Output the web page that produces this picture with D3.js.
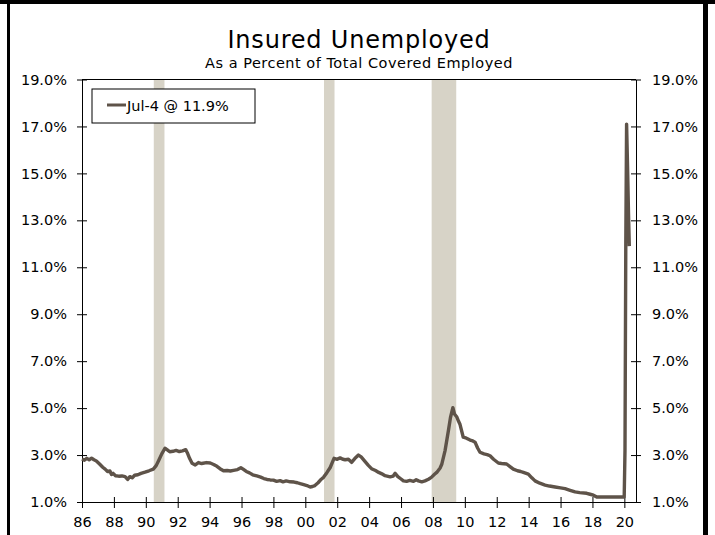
<!DOCTYPE html>
<html><head><meta charset="utf-8">
<script src="https://cdn.jsdelivr.net/npm/d3@7/dist/d3.min.js"></script>
<style>
html,body{margin:0;padding:0;background:#fff;}
svg{display:block;}
text{font-family:"DejaVu Sans",Verdana,sans-serif;fill:#000;}
</style></head>
<body>
<svg id="chart" width="715" height="535"></svg>
<script>
const title = "Insured Unemployed";
const subtitle = "As a Percent of Total Covered Employed";
const legendLabel = "Jul-4 @ 11.9%";

const years = [
1986.0,1986.15,1986.3,1986.45,1986.6,1986.75,1986.9,1987.1,1987.3,1987.45,1987.6,1987.75,1987.85,1987.95,
1988.1,1988.3,1988.5,1988.7,1988.86,1989.0,1989.15,1989.3,1989.5,1989.7,1989.95,1990.2,1990.47,1990.65,1990.8,
1991.0,1991.2,1991.35,1991.5,1991.7,1991.9,1992.1,1992.3,1992.5,1992.6,1992.75,1992.9,1993.1,1993.3,1993.5,1993.8,
1994.04,1994.25,1994.46,1994.65,1994.87,1995.1,1995.3,1995.5,1995.75,1995.96,1996.1,1996.3,1996.5,1996.7,1996.96,
1997.2,1997.4,1997.6,1997.8,1998.0,1998.2,1998.42,1998.6,1998.8,1999.05,1999.3,1999.5,1999.68,1999.9,
2000.1,2000.3,2000.45,2000.6,2000.8,2001.0,2001.14,2001.35,2001.56,2001.7,2001.8,2002.0,2002.18,2002.35,2002.5,
2002.7,2002.9,2003.1,2003.33,2003.5,2003.75,2003.95,2004.15,2004.4,2004.6,2004.8,2005.0,2005.32,2005.5,2005.63,
2005.8,2006.0,2006.15,2006.35,2006.55,2006.78,2006.95,2007.09,2007.3,2007.5,2007.72,2007.9,2008.1,2008.24,
2008.45,2008.56,2008.76,2008.97,2009.1,2009.25,2009.35,2009.5,2009.6,2009.7,2009.9,2010.1,2010.33,2010.5,
2010.64,2010.8,2010.95,2011.2,2011.4,2011.58,2011.8,2012.1,2012.3,2012.62,2012.85,2013.04,2013.3,2013.5,
2013.67,2013.98,2014.2,2014.4,2014.7,2015.03,2015.3,2015.66,2016.0,2016.28,2016.6,2016.91,2017.2,2017.64,
2017.85,2018.06,2018.27,2019.0,2019.99,2020.04,2020.09,2020.14,2020.2,2020.26,2020.31];

const rates = [
2.83,2.78,2.86,2.80,2.87,2.80,2.75,2.62,2.48,2.40,2.30,2.32,2.17,2.22,
2.12,2.10,2.11,2.08,1.96,2.08,2.03,2.14,2.16,2.22,2.27,2.33,2.40,2.55,2.76,
3.05,3.29,3.22,3.14,3.16,3.20,3.15,3.18,3.23,3.10,2.85,2.65,2.58,2.68,2.64,2.68,
2.66,2.60,2.52,2.42,2.33,2.34,2.32,2.35,2.38,2.46,2.40,2.30,2.24,2.16,2.11,
2.06,2.00,1.96,1.94,1.93,1.88,1.91,1.86,1.90,1.86,1.85,1.82,1.78,1.74,
1.70,1.64,1.66,1.70,1.82,1.97,2.05,2.25,2.47,2.70,2.86,2.82,2.88,2.82,2.80,
2.82,2.69,2.85,3.00,2.92,2.72,2.56,2.42,2.34,2.26,2.20,2.12,2.07,2.10,2.22,
2.08,1.98,1.90,1.88,1.92,1.88,1.95,1.90,1.86,1.90,1.97,2.05,2.18,2.26,
2.45,2.62,3.19,4.04,4.60,5.02,4.75,4.62,4.45,4.30,3.76,3.72,3.64,3.60,
3.55,3.30,3.12,3.05,3.02,2.97,2.82,2.66,2.64,2.62,2.50,2.40,2.33,2.30,
2.26,2.19,2.03,1.90,1.80,1.72,1.68,1.64,1.60,1.57,1.50,1.43,1.40,1.37,
1.33,1.29,1.21,1.21,1.21,3.2,12.0,17.1,15.3,13.3,11.9];

const recessionStart = [1990.5, 2001.17, 2007.92];
const recessionEnd   = [1991.17, 2001.83, 2009.46];

const xTickYears  = [1986,1988,1990,1992,1994,1996,1998,2000,2002,2004,2006,2008,2010,2012,2014,2016,2018,2020];
const xTickLabels = ["86","88","90","92","94","96","98","00","02","04","06","08","10","12","14","16","18","20"];
const yTicks = [1,3,5,7,9,11,13,15,17,19];

const svg = d3.select("#chart");
const L = 82, R = 636, T = 79.5, B = 502;
const x = d3.scaleLinear().domain([1986, 2020.73]).range([L, R]);
const y = d3.scaleLinear().domain([1, 19]).range([B, T]);

// recession bands
svg.append("g").selectAll("rect").data(recessionStart).join("rect")
  .attr("x", (d) => x(d))
  .attr("width", (d, i) => x(recessionEnd[i]) - x(d))
  .attr("y", T).attr("height", B - T)
  .attr("fill", "#d7d3c7");

// top frame line
svg.append("line").attr("x1", L).attr("x2", R).attr("y1", T).attr("y2", T)
  .attr("stroke", "#000").attr("stroke-width", 1).attr("shape-rendering","crispEdges");

const fmt = (d) => d.toFixed(1) + "%";
const yl = svg.append("g").attr("transform", `translate(${L},0)`)
  .call(d3.axisLeft(y).tickValues(yTicks).tickFormat(fmt).tickSizeInner(5).tickSizeOuter(0).tickPadding(10));
const yr = svg.append("g").attr("transform", `translate(${R},0)`)
  .call(d3.axisRight(y).tickValues(yTicks).tickFormat(fmt).tickSizeInner(5).tickSizeOuter(0).tickPadding(11));
const xa = svg.append("g").attr("transform", `translate(0,${B})`)
  .call(d3.axisBottom(x).tickValues(xTickYears).tickFormat((d, i) => xTickLabels[i]).tickSizeInner(5).tickSizeOuter(0).tickPadding(10));

[yl, yr, xa].forEach(g => {
  g.selectAll("path").attr("stroke", "#000");
  g.selectAll("text").style("font-size", "14.5px").attr("fill", "#000")
    .style("font-family", "'DejaVu Sans', Verdana, sans-serif");
});
// ticks crossing the axis
yl.selectAll(".tick line").attr("x1", 5).attr("x2", -5).attr("stroke", "#000");
yr.selectAll(".tick line").attr("x1", -5).attr("x2", 5).attr("stroke", "#000");
xa.selectAll(".tick line").attr("y1", -5).attr("y2", 6).attr("stroke", "#000");

// line
const pts = years.map((d, i) => [d, rates[i]]);
svg.append("path").datum(pts)
  .attr("fill", "none").attr("stroke", "#5e5349").attr("stroke-width", 3.4)
  .attr("stroke-linejoin", "round")
  .attr("d", d3.line().x(d => x(d[0])).y(d => y(d[1])));

// titles
svg.append("text").attr("x", (L + R) / 2).attr("y", 48).attr("text-anchor", "middle")
  .style("font-size", "24px").style("letter-spacing", "0.8px").text(title);
svg.append("text").attr("x", (L + R) / 2).attr("y", 67.5).attr("text-anchor", "middle")
  .style("font-size", "14.5px").style("letter-spacing", "0.5px").text(subtitle);

// legend
const lg = svg.append("g");
lg.append("rect").attr("x", 92).attr("y", 89).attr("width", 163).attr("height", 34)
  .attr("fill", "#fff").attr("stroke", "#000").attr("stroke-width", 1);
lg.append("line").attr("x1", 107).attr("x2", 126).attr("y1", 105).attr("y2", 105)
  .attr("stroke", "#5e5349").attr("stroke-width", 3);
lg.append("text").attr("x", 127).attr("y", 110.5).style("font-size", "14.5px").text(legendLabel);

// outer frame
svg.append("line").attr("x1", 0).attr("x2", 715).attr("y1", 2).attr("y2", 2).attr("stroke", "#000").attr("stroke-width", 4);
svg.append("line").attr("x1", 8.5).attr("x2", 8.5).attr("y1", 0).attr("y2", 535).attr("stroke", "#000").attr("stroke-width", 3);
svg.append("line").attr("x1", 705.5).attr("x2", 705.5).attr("y1", 0).attr("y2", 535).attr("stroke", "#000").attr("stroke-width", 5);
</script>
</body></html>
